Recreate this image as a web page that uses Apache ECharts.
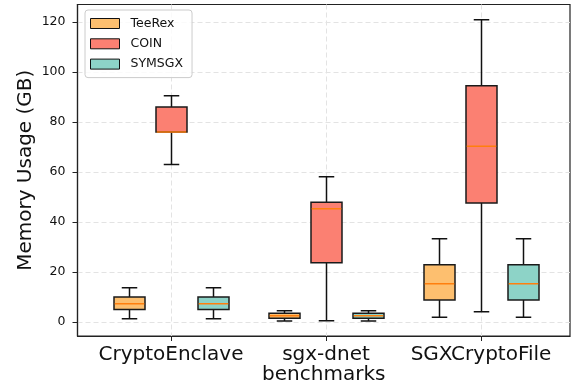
<!DOCTYPE html>
<html>
<head>
<meta charset="utf-8">
<script src="https://cdn.jsdelivr.net/npm/echarts@6/dist/echarts.min.js"></script>
<style>html,body{margin:0;padding:0;background:#fff}#c{width:571px;height:391px}</style>
</head>
<body>
<div id="c"></div>
<script>
// ---- data ----
const categories = ['CryptoEnclave', 'sgx-dnet', 'SGXCryptoFile'];
const seriesNames = ['TeeRex', 'COIN', 'SYMSGX'];
// [min, q1, median, q3, max] per category
const teerex = [[1.3, 5.0, 7.3, 10.0, 13.7], [0.4, 1.5, 2.5, 3.5, 4.5], [1.9, 8.8, 15.3, 22.9, 33.3]];
const coin   = [[63.0, 76.0, 76.0, 86.0, 90.5], [0.5, 23.7, 45.3, 47.9, 58.1], [4.1, 47.6, 70.3, 94.5, 120.9]];
const symsgx = [[1.3, 5.0, 7.3, 10.0, 13.7], [0.4, 1.5, 2.5, 3.5, 4.5], [1.9, 8.8, 15.3, 22.9, 33.3]];
const yTicks = [0, 20, 40, 60, 80, 100, 120];

// ---- style ----
const colors = ['#fdbf6f', '#fb8072', '#8dd3c7'];
const offsets = [-0.27, 0, 0.27];
const boxW = 0.2;
const FONT = 'DejaVu Sans';

function makeSeries(idx, values) {
  return {
    type: 'custom',
    name: seriesNames[idx],
    color: colors[idx],
    data: values.map((v, i) => [i].concat(v)),
    encode: { x: 0, y: [1, 2, 3, 4, 5] },
    renderItem: function (params, api) {
      const xc = api.value(0) + offsets[idx];
      const mn = api.coord([xc, api.value(1)]);
      const q1 = api.coord([xc, api.value(2)]);
      const md = api.coord([xc, api.value(3)]);
      const q3 = api.coord([xc, api.value(4)]);
      const mx = api.coord([xc, api.value(5)]);
      const w = api.size([boxW, 0])[0];
      const cx = Math.round(mn[0]) + 0.5;
      const lineStyle = { stroke: '#111', lineWidth: 1.5 };
      return {
        type: 'group',
        children: [
          { type: 'line', shape: { x1: cx, y1: q3[1], x2: cx, y2: mx[1] }, style: lineStyle },
          { type: 'line', shape: { x1: cx, y1: q1[1], x2: cx, y2: mn[1] }, style: lineStyle },
          { type: 'line', shape: { x1: cx - w / 4, y1: mx[1], x2: cx + w / 4, y2: mx[1] }, style: lineStyle },
          { type: 'line', shape: { x1: cx - w / 4, y1: mn[1], x2: cx + w / 4, y2: mn[1] }, style: lineStyle },
          { type: 'rect', shape: { x: cx - w / 2, y: q3[1], width: w, height: q1[1] - q3[1] },
            style: { fill: colors[idx], stroke: '#1a1a1a', lineWidth: 1.5 } },
          { type: 'line', shape: { x1: cx - w / 2 + 0.75, y1: md[1], x2: cx + w / 2 - 0.75, y2: md[1] },
            style: { stroke: '#ff7f0e', lineWidth: 1.5 } }
        ]
      };
    }
  };
}

const chart = echarts.init(document.getElementById('c'), null, { renderer: 'canvas' });
chart.setOption({
  animation: false,
  backgroundColor: '#fff',
  textStyle: { fontFamily: FONT },
  grid: { left: 77.5, right: 1, top: 4.5, bottom: 55, containLabel: false, outerBoundsMode: 'none',
    show: true, borderColor: '#222', borderWidth: 1.2, backgroundColor: 'transparent' },
  legend: {
    orient: 'vertical',
    left: 85, top: 10,
    padding: [7, 9, 7, 5],
    itemWidth: 29, itemHeight: 10, itemGap: 7.3,
    borderColor: '#cccccc', borderWidth: 1, borderRadius: 3,
    backgroundColor: 'rgba(255,255,255,0.8)',
    icon: 'rect',
    textStyle: { fontFamily: FONT, fontSize: 12.5, color: '#111', padding: [0, 0, 0, 6] },
    data: seriesNames.map((n, i) => ({ name: n, itemStyle: { color: colors[i], borderColor: '#111', borderWidth: 1 } }))
  },
  xAxis: {
    type: 'value',
    min: -0.603, max: 2.574,
    name: 'benchmarks', nameLocation: 'middle', nameGap: 29, nameMoveOverlap: false,
    nameTextStyle: { fontFamily: FONT, fontSize: 20, color: '#111' },
    axisLine: { show: true, onZero: false, lineStyle: { color: '#222', width: 1.2 } },
    axisTick: { show: true, length: 5, customValues: [0, 1, 2], lineStyle: { color: '#222', width: 1 } },
    axisLabel: { customValues: [0, 1, 2], margin: 9, fontFamily: FONT, fontSize: 20, color: '#111',
      formatter: v => categories[Math.round(v)] },
    splitLine: { show: true, lineStyle: { color: '#e3e3e3', type: [5, 3], width: 1 } }
  },
  yAxis: {
    type: 'value',
    min: -5.6, max: 127,
    name: 'Memory Usage (GB)', nameLocation: 'middle', nameGap: 42, nameMoveOverlap: false,
    nameTextStyle: { fontFamily: FONT, fontSize: 20, color: '#111' },
    axisLine: { show: true, onZero: false, lineStyle: { color: '#222', width: 1.2 } },
    axisTick: { show: true, length: 5, customValues: yTicks, lineStyle: { color: '#222', width: 1 } },
    axisLabel: { customValues: yTicks, margin: 12, fontFamily: FONT, fontSize: 12.5, color: '#111' },
    splitLine: { show: true, lineStyle: { color: '#e3e3e3', type: [5, 3], width: 1 } }
  },
  series: [makeSeries(0, teerex), makeSeries(1, coin), makeSeries(2, symsgx)]
});
</script>
</body>
</html>
